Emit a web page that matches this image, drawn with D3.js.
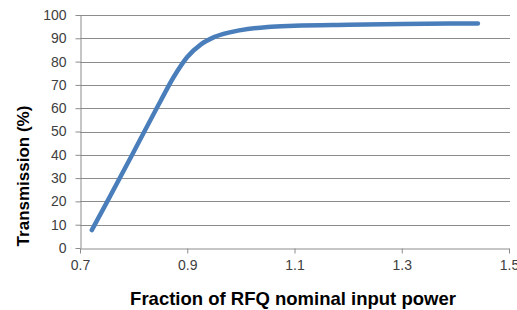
<!DOCTYPE html>
<html>
<head>
<meta charset="utf-8">
<script src="https://cdn.jsdelivr.net/npm/d3@7"></script>
<style>
  html, body { margin: 0; padding: 0; background: #fff; }
  svg { display: block; }
</style>
</head>
<body>
<svg id="chart" width="517" height="310"></svg>
<script>
// data
var powerFraction = [0.722, 0.75, 0.80, 0.85, 0.875, 0.90, 0.925, 0.95, 1.00, 1.05, 1.10, 1.20, 1.30, 1.442];
var transmission  = [7.7, 19.6, 41.2, 63, 73.5, 82, 87.3, 90.5, 93.5, 94.9, 95.4, 95.8, 96.1, 96.4];
var xTicks = [0.7, 0.9, 1.1, 1.3, 1.5];
var yTicks = [0, 10, 20, 30, 40, 50, 60, 70, 80, 90, 100];

var svg = d3.select('#chart');
var margin = { top: 15, left: 80 };
var innerWidth = 509 - margin.left;
var innerHeight = 248 - margin.top;

var fontFamily = 'Liberation Sans, Arial, sans-serif';
var gridColor = '#8c8c8c';

var x = d3.scaleLinear().domain([0.7, 1.5]).range([0, innerWidth]);
var y = d3.scaleLinear().domain([0, 100]).range([innerHeight, 0]);

var g = svg.append('g')
  .attr('transform', 'translate(' + margin.left + ',' + margin.top + ')');

// horizontal gridlines
g.append('g')
  .selectAll('line')
  .data(yTicks.slice(1))
  .enter().append('line')
  .attr('x1', 0)
  .attr('x2', innerWidth + 1)
  .attr('y1', function (d) { return Math.round(y(d)) + 0.5; })
  .attr('y2', function (d) { return Math.round(y(d)) + 0.5; })
  .attr('stroke', gridColor)
  .attr('stroke-width', 1);

// y axis
var yAxis = g.append('g')
  .attr('transform', 'translate(0.5,0)')
  .call(d3.axisLeft(y).tickValues(yTicks).tickSize(5).tickPadding(9).tickSizeOuter(0));
yAxis.select('.domain').attr('stroke', gridColor);
yAxis.selectAll('.tick line').attr('stroke', gridColor);
yAxis.selectAll('.tick text')
  .attr('fill', '#404040')
  .attr('font-size', '14px')
  .attr('font-family', fontFamily);

// x axis
var xAxis = g.append('g')
  .attr('transform', 'translate(0,' + (Math.round(innerHeight) + 0.5) + ')')
  .call(d3.axisBottom(x).tickValues(xTicks).tickFormat(d3.format('.1f')).tickSize(5).tickPadding(7).tickSizeOuter(0));
xAxis.select('.domain').attr('stroke', gridColor);
xAxis.selectAll('.tick line').attr('stroke', gridColor);
xAxis.selectAll('.tick text')
  .attr('fill', '#404040')
  .attr('font-size', '14px')
  .attr('font-family', fontFamily);

// curve
var points = powerFraction.map(function (p, i) { return [p, transmission[i]]; });
var line = d3.line()
  .x(function (d) { return x(d[0]); })
  .y(function (d) { return y(d[1]); })
  .curve(d3.curveMonotoneX);

g.append('path')
  .datum(points)
  .attr('d', line)
  .attr('fill', 'none')
  .attr('stroke', '#4a7ebb')
  .attr('stroke-width', 4.5)
  .attr('stroke-linecap', 'round')
  .attr('stroke-linejoin', 'round');

// axis titles
svg.append('text')
  .attr('x', 293)
  .attr('y', 305)
  .attr('text-anchor', 'middle')
  .attr('fill', '#000')
  .attr('font-size', '18.5px')
  .attr('font-weight', 'bold')
  .attr('font-family', fontFamily)
  .text('Fraction of RFQ nominal input power');

svg.append('text')
  .attr('transform', 'translate(29,176) rotate(-90)')
  .attr('text-anchor', 'middle')
  .attr('fill', '#000')
  .attr('font-size', '17px')
  .attr('font-weight', 'bold')
  .attr('font-family', fontFamily)
  .text('Transmission (%)');
</script>
</body>
</html>
